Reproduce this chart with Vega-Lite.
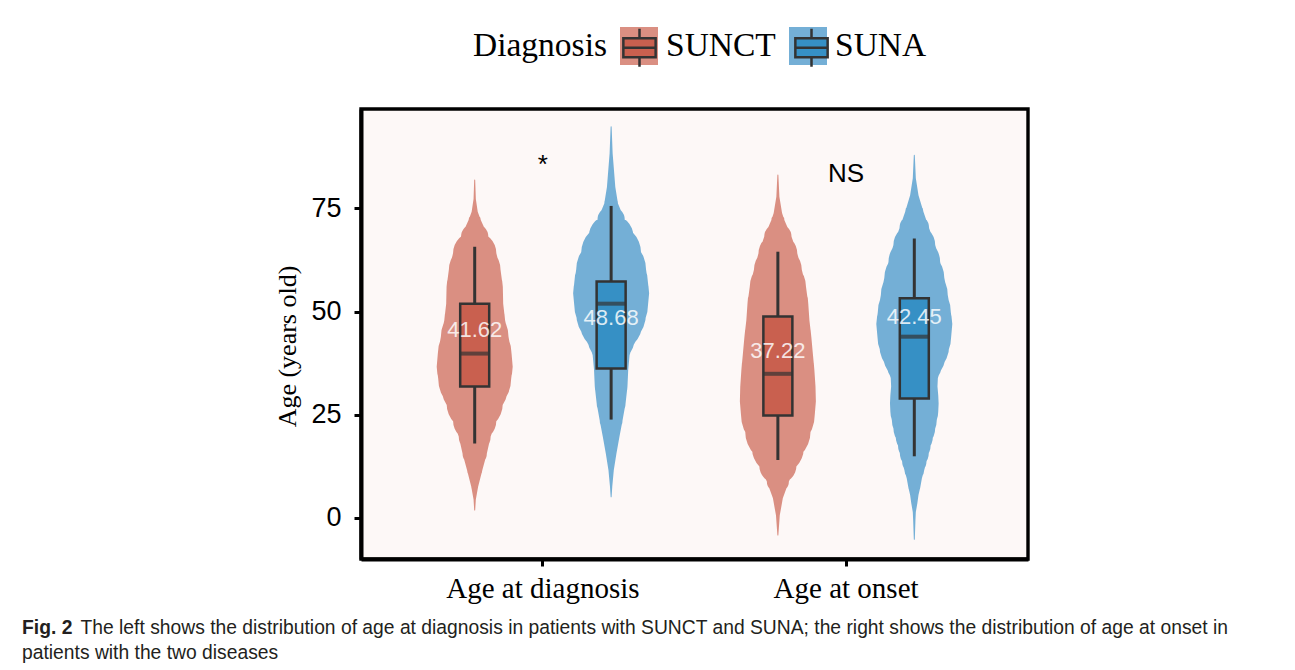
{
  "$schema": "https://vega.github.io/schema/vega-lite/v6.json",
  "width": 667,
  "height": 450,
  "autosize": {"type": "none"},
  "padding": {"left": 361, "top": 109, "right": 267, "bottom": 111},
  "background": "white",
  "config": {
    "view": {"fill": "#FDF8F7", "stroke": "#000000", "strokeWidth": 3.4},
    "axis": {"grid": false}
  },
  "title": {
    "text": "Fig. 2",
    "subtitle": "patients with the two diseases",
    "orient": "bottom",
    "anchor": "start",
    "frame": "group",
    "dx": -339,
    "offset": -18,
    "font": "Liberation Sans",
    "fontSize": 19.3,
    "fontWeight": "bold",
    "color": "#231f20",
    "subtitleFont": "Liberation Sans",
    "subtitleFontSize": 19.3,
    "subtitleFontWeight": "normal",
    "subtitleColor": "#231f20",
    "subtitlePadding": 5.7,
    "baseline": "top"
  },
  "datasets": {
    "violin": [
      {"Measure": "Age at diagnosis", "Diagnosis": "SUNCT", "age": 81.9, "density": 0},
      {"Measure": "Age at diagnosis", "Diagnosis": "SUNCT", "age": 77.3, "density": 0.03},
      {"Measure": "Age at diagnosis", "Diagnosis": "SUNCT", "age": 74.2, "density": 0.08},
      {"Measure": "Age at diagnosis", "Diagnosis": "SUNCT", "age": 72.2, "density": 0.16},
      {"Measure": "Age at diagnosis", "Diagnosis": "SUNCT", "age": 68.1, "density": 0.36},
      {"Measure": "Age at diagnosis", "Diagnosis": "SUNCT", "age": 64.1, "density": 0.57},
      {"Measure": "Age at diagnosis", "Diagnosis": "SUNCT", "age": 60.1, "density": 0.68},
      {"Measure": "Age at diagnosis", "Diagnosis": "SUNCT", "age": 56.0, "density": 0.74},
      {"Measure": "Age at diagnosis", "Diagnosis": "SUNCT", "age": 51.9, "density": 0.75},
      {"Measure": "Age at diagnosis", "Diagnosis": "SUNCT", "age": 47.9, "density": 0.80},
      {"Measure": "Age at diagnosis", "Diagnosis": "SUNCT", "age": 43.9, "density": 0.89},
      {"Measure": "Age at diagnosis", "Diagnosis": "SUNCT", "age": 39.8, "density": 0.97},
      {"Measure": "Age at diagnosis", "Diagnosis": "SUNCT", "age": 36.6, "density": 1.0},
      {"Measure": "Age at diagnosis", "Diagnosis": "SUNCT", "age": 33.7, "density": 0.96},
      {"Measure": "Age at diagnosis", "Diagnosis": "SUNCT", "age": 31.8, "density": 0.88},
      {"Measure": "Age at diagnosis", "Diagnosis": "SUNCT", "age": 27.7, "density": 0.74},
      {"Measure": "Age at diagnosis", "Diagnosis": "SUNCT", "age": 23.6, "density": 0.57},
      {"Measure": "Age at diagnosis", "Diagnosis": "SUNCT", "age": 19.7, "density": 0.42},
      {"Measure": "Age at diagnosis", "Diagnosis": "SUNCT", "age": 15.6, "density": 0.32},
      {"Measure": "Age at diagnosis", "Diagnosis": "SUNCT", "age": 11.5, "density": 0.20},
      {"Measure": "Age at diagnosis", "Diagnosis": "SUNCT", "age": 7.5, "density": 0.09},
      {"Measure": "Age at diagnosis", "Diagnosis": "SUNCT", "age": 4.4, "density": 0.03},
      {"Measure": "Age at diagnosis", "Diagnosis": "SUNCT", "age": 1.9, "density": 0},
      {"Measure": "Age at diagnosis", "Diagnosis": "SUNA", "age": 94.8, "density": 0},
      {"Measure": "Age at diagnosis", "Diagnosis": "SUNA", "age": 88.3, "density": 0.04},
      {"Measure": "Age at diagnosis", "Diagnosis": "SUNA", "age": 80.2, "density": 0.11},
      {"Measure": "Age at diagnosis", "Diagnosis": "SUNA", "age": 76.2, "density": 0.18},
      {"Measure": "Age at diagnosis", "Diagnosis": "SUNA", "age": 72.2, "density": 0.36},
      {"Measure": "Age at diagnosis", "Diagnosis": "SUNA", "age": 68.1, "density": 0.59},
      {"Measure": "Age at diagnosis", "Diagnosis": "SUNA", "age": 64.1, "density": 0.79},
      {"Measure": "Age at diagnosis", "Diagnosis": "SUNA", "age": 60.1, "density": 0.92},
      {"Measure": "Age at diagnosis", "Diagnosis": "SUNA", "age": 57.0, "density": 0.97},
      {"Measure": "Age at diagnosis", "Diagnosis": "SUNA", "age": 54.4, "density": 1.0},
      {"Measure": "Age at diagnosis", "Diagnosis": "SUNA", "age": 51.5, "density": 0.97},
      {"Measure": "Age at diagnosis", "Diagnosis": "SUNA", "age": 49.5, "density": 0.92},
      {"Measure": "Age at diagnosis", "Diagnosis": "SUNA", "age": 47.5, "density": 0.83},
      {"Measure": "Age at diagnosis", "Diagnosis": "SUNA", "age": 45.5, "density": 0.71},
      {"Measure": "Age at diagnosis", "Diagnosis": "SUNA", "age": 43.4, "density": 0.62},
      {"Measure": "Age at diagnosis", "Diagnosis": "SUNA", "age": 41.4, "density": 0.53},
      {"Measure": "Age at diagnosis", "Diagnosis": "SUNA", "age": 39.8, "density": 0.49},
      {"Measure": "Age at diagnosis", "Diagnosis": "SUNA", "age": 35.9, "density": 0.45},
      {"Measure": "Age at diagnosis", "Diagnosis": "SUNA", "age": 31.8, "density": 0.43},
      {"Measure": "Age at diagnosis", "Diagnosis": "SUNA", "age": 27.7, "density": 0.38},
      {"Measure": "Age at diagnosis", "Diagnosis": "SUNA", "age": 23.6, "density": 0.30},
      {"Measure": "Age at diagnosis", "Diagnosis": "SUNA", "age": 19.7, "density": 0.22},
      {"Measure": "Age at diagnosis", "Diagnosis": "SUNA", "age": 15.6, "density": 0.14},
      {"Measure": "Age at diagnosis", "Diagnosis": "SUNA", "age": 11.5, "density": 0.07},
      {"Measure": "Age at diagnosis", "Diagnosis": "SUNA", "age": 7.5, "density": 0.03},
      {"Measure": "Age at diagnosis", "Diagnosis": "SUNA", "age": 5.1, "density": 0},
      {"Measure": "Age at onset", "Diagnosis": "SUNCT", "age": 83.1, "density": 0},
      {"Measure": "Age at onset", "Diagnosis": "SUNCT", "age": 77.8, "density": 0.04},
      {"Measure": "Age at onset", "Diagnosis": "SUNCT", "age": 73.9, "density": 0.11},
      {"Measure": "Age at onset", "Diagnosis": "SUNCT", "age": 72.2, "density": 0.17},
      {"Measure": "Age at onset", "Diagnosis": "SUNCT", "age": 68.1, "density": 0.36},
      {"Measure": "Age at onset", "Diagnosis": "SUNCT", "age": 64.1, "density": 0.51},
      {"Measure": "Age at onset", "Diagnosis": "SUNCT", "age": 60.1, "density": 0.63},
      {"Measure": "Age at onset", "Diagnosis": "SUNCT", "age": 56.0, "density": 0.74},
      {"Measure": "Age at onset", "Diagnosis": "SUNCT", "age": 51.9, "density": 0.80},
      {"Measure": "Age at onset", "Diagnosis": "SUNCT", "age": 47.9, "density": 0.83},
      {"Measure": "Age at onset", "Diagnosis": "SUNCT", "age": 43.9, "density": 0.88},
      {"Measure": "Age at onset", "Diagnosis": "SUNCT", "age": 39.8, "density": 0.92},
      {"Measure": "Age at onset", "Diagnosis": "SUNCT", "age": 35.9, "density": 0.96},
      {"Measure": "Age at onset", "Diagnosis": "SUNCT", "age": 31.8, "density": 0.99},
      {"Measure": "Age at onset", "Diagnosis": "SUNCT", "age": 28.2, "density": 1.0},
      {"Measure": "Age at onset", "Diagnosis": "SUNCT", "age": 24.9, "density": 0.97},
      {"Measure": "Age at onset", "Diagnosis": "SUNCT", "age": 20.9, "density": 0.86},
      {"Measure": "Age at onset", "Diagnosis": "SUNCT", "age": 16.8, "density": 0.68},
      {"Measure": "Age at onset", "Diagnosis": "SUNCT", "age": 12.7, "density": 0.49},
      {"Measure": "Age at onset", "Diagnosis": "SUNCT", "age": 8.8, "density": 0.29},
      {"Measure": "Age at onset", "Diagnosis": "SUNCT", "age": 4.7, "density": 0.13},
      {"Measure": "Age at onset", "Diagnosis": "SUNCT", "age": 0.6, "density": 0.05},
      {"Measure": "Age at onset", "Diagnosis": "SUNCT", "age": -4.2, "density": 0},
      {"Measure": "Age at onset", "Diagnosis": "SUNA", "age": 87.9, "density": 0},
      {"Measure": "Age at onset", "Diagnosis": "SUNA", "age": 82.3, "density": 0.04},
      {"Measure": "Age at onset", "Diagnosis": "SUNA", "age": 78.2, "density": 0.11},
      {"Measure": "Age at onset", "Diagnosis": "SUNA", "age": 74.2, "density": 0.24},
      {"Measure": "Age at onset", "Diagnosis": "SUNA", "age": 70.2, "density": 0.39},
      {"Measure": "Age at onset", "Diagnosis": "SUNA", "age": 66.1, "density": 0.55},
      {"Measure": "Age at onset", "Diagnosis": "SUNA", "age": 62.0, "density": 0.68},
      {"Measure": "Age at onset", "Diagnosis": "SUNA", "age": 58.1, "density": 0.79},
      {"Measure": "Age at onset", "Diagnosis": "SUNA", "age": 54.0, "density": 0.88},
      {"Measure": "Age at onset", "Diagnosis": "SUNA", "age": 49.9, "density": 0.96},
      {"Measure": "Age at onset", "Diagnosis": "SUNA", "age": 47.0, "density": 1.0},
      {"Measure": "Age at onset", "Diagnosis": "SUNA", "age": 43.9, "density": 0.97},
      {"Measure": "Age at onset", "Diagnosis": "SUNA", "age": 41.9, "density": 0.92},
      {"Measure": "Age at onset", "Diagnosis": "SUNA", "age": 39.8, "density": 0.83},
      {"Measure": "Age at onset", "Diagnosis": "SUNA", "age": 37.8, "density": 0.74},
      {"Measure": "Age at onset", "Diagnosis": "SUNA", "age": 35.9, "density": 0.66},
      {"Measure": "Age at onset", "Diagnosis": "SUNA", "age": 33.8, "density": 0.62},
      {"Measure": "Age at onset", "Diagnosis": "SUNA", "age": 31.8, "density": 0.61},
      {"Measure": "Age at onset", "Diagnosis": "SUNA", "age": 29.7, "density": 0.63},
      {"Measure": "Age at onset", "Diagnosis": "SUNA", "age": 27.7, "density": 0.64},
      {"Measure": "Age at onset", "Diagnosis": "SUNA", "age": 25.7, "density": 0.63},
      {"Measure": "Age at onset", "Diagnosis": "SUNA", "age": 23.6, "density": 0.59},
      {"Measure": "Age at onset", "Diagnosis": "SUNA", "age": 21.7, "density": 0.55},
      {"Measure": "Age at onset", "Diagnosis": "SUNA", "age": 19.7, "density": 0.49},
      {"Measure": "Age at onset", "Diagnosis": "SUNA", "age": 17.6, "density": 0.43},
      {"Measure": "Age at onset", "Diagnosis": "SUNA", "age": 15.6, "density": 0.38},
      {"Measure": "Age at onset", "Diagnosis": "SUNA", "age": 13.6, "density": 0.32},
      {"Measure": "Age at onset", "Diagnosis": "SUNA", "age": 11.5, "density": 0.26},
      {"Measure": "Age at onset", "Diagnosis": "SUNA", "age": 9.6, "density": 0.20},
      {"Measure": "Age at onset", "Diagnosis": "SUNA", "age": 7.5, "density": 0.16},
      {"Measure": "Age at onset", "Diagnosis": "SUNA", "age": 5.5, "density": 0.11},
      {"Measure": "Age at onset", "Diagnosis": "SUNA", "age": 3.5, "density": 0.08},
      {"Measure": "Age at onset", "Diagnosis": "SUNA", "age": 1.4, "density": 0.04},
      {"Measure": "Age at onset", "Diagnosis": "SUNA", "age": -0.6, "density": 0.03},
      {"Measure": "Age at onset", "Diagnosis": "SUNA", "age": -5.2, "density": 0}
    ],
    "box": [
      {"Measure": "Age at diagnosis", "Diagnosis": "SUNCT", "lower": 18.0, "q1": 31.8, "median": 39.8, "q3": 51.9, "upper": 65.7, "mean": 41.62, "label_y": 45.5},
      {"Measure": "Age at diagnosis", "Diagnosis": "SUNA", "lower": 23.8, "q1": 36.2, "median": 51.9, "q3": 57.3, "upper": 75.6, "mean": 48.68, "label_y": 48.4},
      {"Measure": "Age at onset", "Diagnosis": "SUNCT", "lower": 14.0, "q1": 24.8, "median": 34.9, "q3": 48.8, "upper": 64.5, "mean": 37.22, "label_y": 40.4},
      {"Measure": "Age at onset", "Diagnosis": "SUNA", "lower": 14.9, "q1": 28.9, "median": 43.9, "q3": 53.2, "upper": 67.7, "mean": 42.45, "label_y": 48.6}
    ],
    "annot": [
      {"Measure": "Age at diagnosis", "label": "*", "y": 83.5},
      {"Measure": "Age at onset", "label": "NS", "y": 81.5}
    ]
  },
  "encoding": {
    "x": {
      "field": "Measure",
      "type": "nominal",
      "scale": {"domain": ["Age at diagnosis", "Age at onset"], "paddingInner": 0.1, "paddingOuter": 0.15},
      "axis": {
        "title": "The left shows the distribution of age at diagnosis in patients with SUNCT and SUNA; the right shows the distribution of age at onset in",
        "titleX": -281,
        "titleY": 74,
        "titleAlign": "left",
        "titleBaseline": "alphabetic",
        "titleLimit": 0,
        "titleFont": "Liberation Sans",
        "titleFontWeight": "normal",
        "titleFontSize": 19.3,
        "titleColor": "#231f20",
        "labelFont": "Liberation Serif",
        "labelFontSize": 29,
        "labelColor": "#000000",
        "labelPadding": 8,
        "labelAngle": 0,
        "labelLimit": 0,
        "tickSize": 7,
        "tickWidth": 3,
        "tickColor": "#000000",
        "domainWidth": 4,
        "domainColor": "#000000",
        "bandPosition": 0.5
      }
    },
    "y": {
      "type": "quantitative",
      "scale": {"domain": [-10.0, 99.1], "nice": false, "zero": false},
      "axis": {
        "title": "Age (years old)",
        "titleY": 237,
        "values": [0, 25, 50, 75],
        "tickSize": 7,
        "tickWidth": 3,
        "tickColor": "#000000",
        "domainColor": "#000000",
        "domainWidth": 4,
        "labelFont": "Liberation Sans",
        "labelFontSize": 27,
        "labelColor": "#000000",
        "labelPadding": 13,
        "titleFont": "Liberation Serif",
        "titleFontSize": 26,
        "titleFontWeight": "normal",
        "titleColor": "#000000",
        "titlePadding": 10
      }
    }
  },
  "layer": [
    {
      "data": {"name": "violin"},
      "mark": {"type": "trail"},
      "encoding": {
        "xOffset": {"field": "Diagnosis", "type": "nominal", "scale": {"domain": ["SUNCT", "SUNA"], "paddingInner": 0, "paddingOuter": 0}},
        "y": {"field": "age", "type": "quantitative"},
        "size": {"field": "density", "type": "quantitative", "scale": {"domain": [0, 1], "range": [0, 76]}, "legend": null},
        "color": {
          "field": "Diagnosis",
          "type": "nominal",
          "scale": {"domain": ["SUNCT", "SUNA"], "range": ["#DA8F82", "#74AFD6"]},
          "legend": {
            "orient": "none", "legendX": 112, "legendY": -82, "direction": "horizontal",
            "title": "Diagnosis", "titleOrient": "left", "titleFont": "Liberation Serif", "titleFontSize": 33.5,
            "titleFontWeight": "normal", "titleColor": "#000000", "titlePadding": 13,
            "labelFont": "Liberation Serif", "labelFontSize": 33.5, "labelColor": "#000000", "labelOffset": 8,
            "columnPadding": 13, "symbolType": "square", "symbolSize": 1444, "symbolStrokeWidth": 0,
            "symbolOpacity": 1, "padding": 0,
            "encode": {"symbols": {"update": {"fill": {"scale": "color", "field": "value"}, "fillOpacity": {"value": 1}}}}
          }
        },
        "detail": {"field": "Measure"},
        "order": {"field": "age", "type": "quantitative"}
      }
    },
    {
      "data": {"name": "box"},
      "mark": {"type": "rule", "color": "#333333", "strokeWidth": 3},
      "encoding": {
        "xOffset": {"field": "Diagnosis", "type": "nominal"},
        "y": {"field": "lower", "type": "quantitative"},
        "y2": {"field": "upper"}
      }
    },
    {
      "data": {"name": "box"},
      "mark": {"type": "bar", "size": 29, "stroke": "#333333", "strokeWidth": 2.5},
      "encoding": {
        "xOffset": {"field": "Diagnosis", "type": "nominal"},
        "y": {"field": "q1", "type": "quantitative"},
        "y2": {"field": "q3"},
        "fill": {
          "field": "Diagnosis",
          "type": "nominal",
          "sort": ["SUNCT", "SUNA"],
          "scale": {"range": ["#C9604F", "#3690C5"]},
          "legend": {
            "orient": "none", "legendX": 258, "legendY": -82, "direction": "horizontal",
            "title": null,
            "labelExpr": "''", "labelOffset": 0, "labelFontSize": 1,
            "columnPadding": 129,
            "symbolType": "M-0.85,-0.5H0.85V0.5H-0.85Z M-0.85,0H0.85 M0,-1V-0.5 M0,0.5V1",
            "symbolSize": 1444, "symbolStrokeWidth": 2.5, "symbolStrokeColor": "#333333",
            "symbolOpacity": 1, "padding": 0
          }
        }
      }
    },
    {
      "data": {"name": "box"},
      "mark": {"type": "tick", "color": "#333333", "size": 29, "thickness": 4, "orient": "horizontal"},
      "encoding": {
        "xOffset": {"field": "Diagnosis", "type": "nominal"},
        "y": {"field": "median", "type": "quantitative"}
      }
    },
    {
      "data": {"name": "box"},
      "mark": {"type": "text", "font": "Liberation Sans", "fontSize": 22, "fill": "#FFFFFF", "opacity": 0.82, "baseline": "middle", "align": "center"},
      "encoding": {
        "xOffset": {"field": "Diagnosis", "type": "nominal"},
        "y": {"field": "label_y", "type": "quantitative"},
        "text": {"field": "mean", "type": "quantitative", "format": ".2f"}
      }
    },
    {
      "data": {"name": "annot"},
      "mark": {"type": "text", "font": "Liberation Sans", "fontSize": 26, "fill": "#000000", "baseline": "alphabetic", "align": "center"},
      "encoding": {
        "y": {"field": "y", "type": "quantitative"},
        "text": {"field": "label", "type": "nominal"}
      }
    }
  ]
}
